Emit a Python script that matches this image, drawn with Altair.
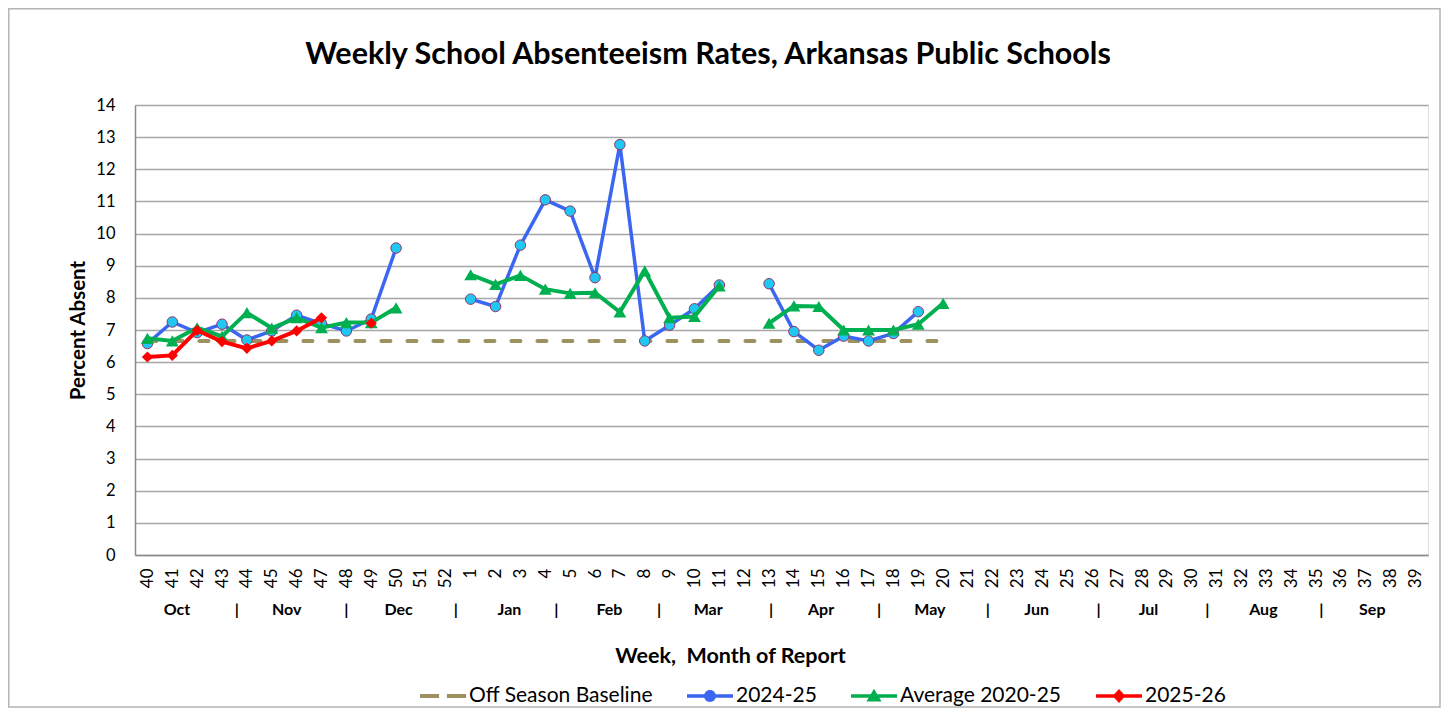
import json
import altair as alt
import pandas as pd

# ---------------- data ----------------
weeks = ["40", "41", "42", "43", "44", "45", "46", "47", "48", "49", "50", "51", "52",
         "1", "2", "3", "4", "5", "6", "7", "8", "9", "10", "11", "12", "13", "14", "15",
         "16", "17", "18", "19", "20", "21", "22", "23", "24", "25", "26", "27", "28", "29",
         "30", "31", "32", "33", "34", "35", "36", "37", "38", "39"]

series_names = ["Off Season Baseline", "2024-25", "Average 2020-25", "2025-26"]

baseline = [6.66] * 33 + [None] * 19

s2425 = [6.58, 7.25, 6.92, 7.18, 6.69, 6.97, 7.46, 7.2, 6.97, 7.34, 9.55, None, None,
         7.96, 7.73, 9.64, 11.05, 10.7, 8.63, 12.77, 6.66, 7.15, 7.66, 8.4, None,
         8.44, 6.95, 6.37, 6.81, 6.66, 6.89, 7.57] + [None] * 20

avg2025 = [6.74, 6.66, 7.07, 6.8, 7.54, 7.06, 7.38, 7.07, 7.23, 7.23, 7.69, None, None,
           8.72, 8.42, 8.7, 8.27, 8.14, 8.16, 7.56, 8.84, 7.38, 7.42, 8.37, None,
           7.21, 7.75, 7.73, 7.0, 7.0, 7.0, 7.18, 7.83] + [None] * 19

s2526 = [6.16, 6.21, 6.99, 6.64, 6.43, 6.66, 6.97, 7.38, None, 7.21] + [None] * 42

months = ["Oct", "Nov", "Dec", "Jan", "Feb", "Mar", "Apr", "May", "Jun", "Jul", "Aug", "Sep"]
month_at = [1.19, 5.6, 10.1, 14.56, 18.58, 22.55, 27.09, 31.47, 35.76, 40.26, 44.88, 49.26]
sep_at = [3.6, 8.0, 12.4, 16.45, 20.58, 25.08, 29.42, 33.8, 38.25, 42.63, 47.21]

title_text = "Weekly School Absenteeism Rates, Arkansas Public Schools"

# ---------------- styles ----------------
FONT = "Lato"
OLIVE = "#9c915f"
BLUE = "#3a66f2"
CYAN = "#1ec8f2"
PURPLE = "#993366"
GREEN = "#00b050"
RED = "#ff0000"

legend_paths = [
    "M-1,-0.09H-0.17V0.09H-1Z M0.17,-0.09H1V0.09H0.17Z",
    "M-1,-0.075H1V0.075H-1Z M-0.26,0A0.26,0.26 0 1,1 0.26,0A0.26,0.26 0 1,1 -0.26,0Z",
    "M-1,-0.08H1V0.08H-1Z M0,-0.32L0.33,0.24L-0.33,0.24Z",
    "M-1,-0.08H1V0.08H-1Z M0,-0.3L0.28,0L0,0.3L-0.28,0Z",
]

idx = list(range(len(weeks)))


def frame(vals):
    return pd.DataFrame({"idx": idx, "value": vals})


W, H = 1293, 450

x_enc = alt.X(
    "idx:Q",
    scale=alt.Scale(domain=[-0.5, len(weeks) - 0.5], nice=False, zero=False),
    axis=alt.Axis(
        values=idx,
        labelExpr=json.dumps(weeks) + "[datum.value]",
        labelAngle=270,
        labelOverlap=False,
        labelFontSize=17,
        labelFont=FONT,
        labelColor="black",
        labelPadding=13,
        ticks=False,
        tickSize=0,
        grid=False,
        domainColor="#8c8c8c",
        domainWidth=1.5,
        title="Week,\u00a0 Month of Report",
        titleFont=FONT,
        titleFontSize=21.5,
        titleFontWeight="bold",
        titleColor="black",
        titleX=595,
        titleY=101,
        titleAlign="center",
        titleBaseline="middle",
    ),
)
y_enc = alt.Y(
    "value:Q",
    scale=alt.Scale(domain=[0, 14], nice=False, zero=True),
    axis=alt.Axis(
        values=list(range(15)),
        labelFontSize=16.5,
        labelFont=FONT,
        labelColor="black",
        labelPadding=20,
        ticks=False,
        tickSize=0,
        grid=True,
        gridColor="#a6a6a6",
        gridWidth=1.5,
        domainColor="#8c8c8c",
        domainWidth=1.5,
        title="Percent Absent",
        titleFont=FONT,
        titleFontSize=20.5,
        titleFontWeight="bold",
        titleColor="black",
        titleAngle=270,
        titleX=-57,
        titleY=225,
        titleAlign="center",
        titleBaseline="middle",
    ),
)

border = alt.Chart(pd.DataFrame({"a": [0]})).mark_rect(
    fillOpacity=0, stroke="#b4b4b4", strokeWidth=1.5
).encode(
    x=alt.value(-126.2), x2=alt.value(W + 12), y=alt.value(-96.2), y2=alt.value(H + 152)
)

title_mark = alt.Chart(pd.DataFrame({"t": [title_text]})).mark_text(
    font=FONT, fontSize=30.5, fontWeight="bold", color="black", align="center", baseline="middle"
).encode(x=alt.value(573), y=alt.value(-50), text="t:N")

base_line = alt.Chart(frame(baseline)).mark_line(
    color=OLIVE, strokeWidth=4, strokeDash=[9, 17], strokeCap="round"
).encode(x=x_enc, y=y_enc)

blue_line = alt.Chart(frame(s2425)).mark_line(color=BLUE, strokeWidth=3.5).encode(x=x_enc, y=y_enc)
blue_pts = alt.Chart(frame(s2425)).mark_point(
    shape="circle", filled=True, fill=CYAN, stroke=PURPLE, strokeWidth=1, size=110, opacity=1
).encode(x=x_enc, y=y_enc)

green_line = alt.Chart(frame(avg2025)).mark_line(color=GREEN, strokeWidth=4).encode(x=x_enc, y=y_enc)
green_pts = alt.Chart(frame(avg2025)).mark_point(
    shape="triangle-up", filled=True, color=GREEN, size=165, opacity=1
).encode(x=x_enc, y=y_enc)

red_line = alt.Chart(frame(s2526)).mark_line(color=RED, strokeWidth=4).encode(x=x_enc, y=y_enc)
red_pts = alt.Chart(frame(s2526)).mark_point(
    shape="diamond", filled=True, color=RED, size=125, opacity=1
).encode(x=x_enc, y=y_enc)

legend_df = pd.DataFrame({"series": series_names, "idx": [None] * 4, "value": [None] * 4})
leg = alt.Legend(
    orient="none",
    legendX=285,
    legendY=568,
    direction="horizontal",
    columns=4,
    title=None,
    symbolSize=2116,
    symbolStrokeWidth=0,
    symbolOpacity=1,
    labelFont=FONT,
    labelFontSize=21,
    labelColor="black",
    labelOffset=3,
    labelLimit=0,
    columnPadding=34,
)
legend_layer = alt.Chart(legend_df).mark_point(filled=True, opacity=1).encode(
    x=x_enc,
    y=y_enc,
    color=alt.Color("series:N", scale=alt.Scale(domain=series_names, range=[OLIVE, BLUE, GREEN, RED]), legend=leg),
    shape=alt.Shape("series:N", scale=alt.Scale(domain=series_names, range=legend_paths), legend=leg),
)

month_df = pd.DataFrame({
    "idx": month_at + sep_at,
    "label": months + ["|"] * len(sep_at),
})
month_text = alt.Chart(month_df).mark_text(
    font=FONT, fontSize=16, fontWeight="bold", color="black", baseline="middle", align="center"
).encode(
    x=x_enc,
    y=alt.value(H + 55),
    text="label:N",
)

chart = alt.layer(
    border, title_mark, base_line, blue_line, blue_pts, green_line, green_pts, red_line, red_pts,
    legend_layer, month_text,
).properties(
    width=W,
    height=H,
    padding={"left": 127, "top": 97, "right": 14, "bottom": 153},
    autosize=alt.AutoSizeParams(type="none"),
).configure_view(stroke=None).configure(font=FONT, background="white")

chart.save("out.html", embed_options={"renderer": "svg", "actions": False})
